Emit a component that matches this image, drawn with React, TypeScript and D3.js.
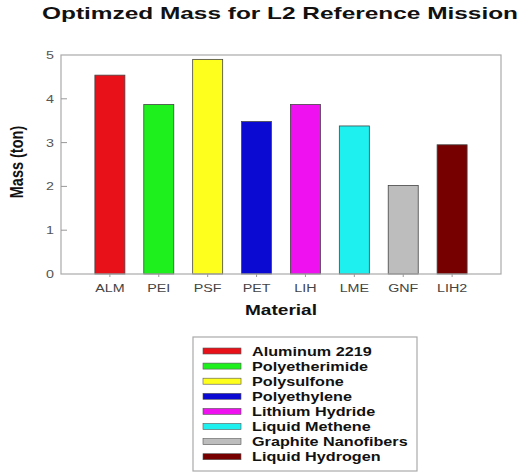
import React from "react";
import * as d3 from "d3";

const categories = ["ALM", "PEI", "PSF", "PET", "LIH", "LME", "GNF", "LIH2"];
const values = [4.54, 3.87, 4.9, 3.48, 3.87, 3.38, 2.02, 2.95];
const materials = [
  "Aluminum 2219",
  "Polyetherimide",
  "Polysulfone",
  "Polyethylene",
  "Lithium Hydride",
  "Liquid Methene",
  "Graphite Nanofibers",
  "Liquid Hydrogen",
];
const colors = ["#e8111a", "#1ef01e", "#ffff1e", "#0a0ad2", "#f011f0", "#1ef0f0", "#bdbdbd", "#760000"];
const yTicks = [0, 1, 2, 3, 4, 5];

const W = 522;
const H = 473;
const plot = { left: 61, right: 501, top: 55, bottom: 274 };
const SX = 1.3;
const FONT = "Arial, 'Liberation Sans', Helvetica, sans-serif";

export default function App() {
  const x = d3.scaleLinear().domain([0, categories.length + 1]).range([plot.left, plot.right]);
  const y = d3.scaleLinear().domain([0, 5]).range([plot.bottom, plot.top]);
  const barW = 30;

  const legend = { x: 193, y: 337, w: 224, h: 134, rowY0: 351, rowStep: 15.1 };

  return (
    <svg width={W} height={H} style={{ position: "absolute", left: 0, top: 0, background: "#fff" }} fontFamily={FONT}>
      <text x={280} y={19} textAnchor="middle" fontSize={17} fontWeight="bold" fill="#111" textLength={476} lengthAdjust="spacingAndGlyphs">
        Optimzed Mass for L2 Reference Mission
      </text>

      {/* bars */}
      {values.map((v, i) => (
        <rect
          key={categories[i]}
          x={x(i + 1) - barW / 2}
          y={y(v)}
          width={barW}
          height={y(0) - y(v)}
          fill={colors[i]}
          stroke="#444"
          strokeWidth={0.8}
        />
      ))}

      {/* frame */}
      <rect x={plot.left} y={plot.top} width={plot.right - plot.left} height={plot.bottom - plot.top} fill="none" stroke="#aaa" strokeWidth={1.2} />

      {/* y ticks */}
      {yTicks.map((t) => (
        <g key={t}>
          {t > 0 && t < 5 && <line x1={plot.left} x2={plot.left + 6} y1={y(t)} y2={y(t)} stroke="#999" strokeWidth={1} />}
          <text
            transform={`translate(${50},${y(t) + 4}) scale(${SX},1)`}
            textAnchor="middle"
            fontSize={11}
            fill="#555"
          >
            {t}
          </text>
        </g>
      ))}

      {/* x ticks */}
      {categories.map((c, i) => (
        <g key={c}>
          <line x1={x(i + 1)} x2={x(i + 1)} y1={plot.bottom} y2={plot.bottom + 3} stroke="#999" strokeWidth={1} />
          <text
            transform={`translate(${x(i + 1)},${292}) scale(${SX},1)`}
            textAnchor="middle"
            fontSize={11}
            fill="#444"
          >
            {c}
          </text>
        </g>
      ))}

      {/* axis titles */}
      <text
        transform={`translate(${23},${162}) scale(${SX},1) rotate(-90)`}
        textAnchor="middle"
        fontSize={14.5}
        fontWeight="bold"
        fill="#111"
      >
        Mass (ton)
      </text>
      <text x={281} y={315} textAnchor="middle" fontSize={14} fontWeight="bold" fill="#111" textLength={72} lengthAdjust="spacingAndGlyphs">
        Material
      </text>

      {/* legend */}
      <rect x={legend.x} y={legend.y} width={legend.w} height={legend.h} fill="#fff" stroke="#aaa" strokeWidth={1.2} />
      {materials.map((m, i) => {
        const cy = legend.rowY0 + i * legend.rowStep;
        return (
          <g key={m}>
            <rect x={203} y={cy - 3} width={38} height={6} fill={colors[i]} stroke="#555" strokeWidth={0.6} />
            <text transform={`translate(${252},${cy + 4.5}) scale(${SX + 0.05},1)`} fontSize={12} fontWeight="bold" fill="#111">
              {m}
            </text>
          </g>
        );
      })}
    </svg>
  );
}
